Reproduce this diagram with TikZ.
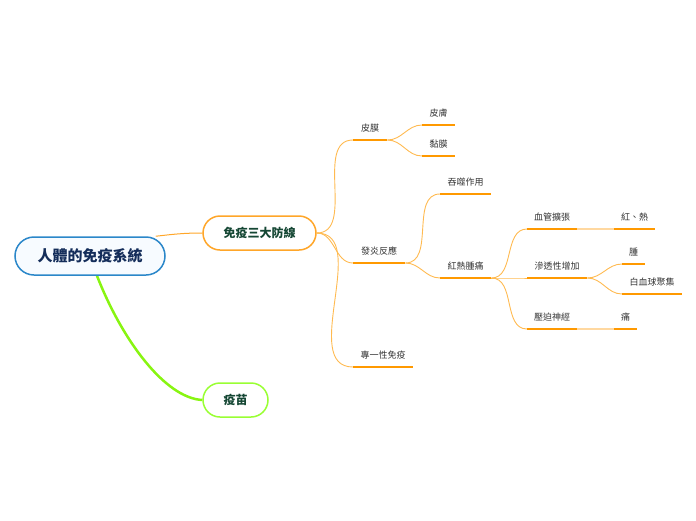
\documentclass[tikz,border=0pt]{standalone}
\usepackage{fontspec}
\setmainfont{Noto Sans CJK TC}
\usetikzlibrary{backgrounds}
\definecolor{rootblue}{HTML}{2B87C9}
\definecolor{rootfill}{HTML}{F7FBFF}
\definecolor{rootink}{HTML}{142D5A}
\definecolor{mainink}{HTML}{154734}
\definecolor{mainorange}{HTML}{FFA629}
\definecolor{vaccinegreen}{HTML}{99FF33}
\definecolor{limegreen}{HTML}{88F511}
\definecolor{lineorange}{HTML}{FF9900}
\definecolor{linkorange}{HTML}{FFBA50}
\definecolor{paleorange}{HTML}{FFD8A0}
\definecolor{labelink}{HTML}{333333}

\begin{document}
\begin{tikzpicture}[x=1pt, y=-1pt, central/.style={draw=rootblue, line width=1.5pt, rounded corners=19pt, fill=rootfill, minimum width=150pt, minimum height=38pt, text=rootink, font=\fontsize{15}{18}\selectfont\bfseries}, main/.style={line width=1.5pt, rounded corners=17pt, fill=white, minimum height=34pt, text=mainink, font=\fontsize{12}{14}\selectfont\bfseries}, topic/.style={anchor=south west, inner xsep=0pt, inner ysep=8.5pt, text height=7pt, text depth=0pt, text=labelink, font=\fontsize{9}{11}\selectfont}, uline/.style={lineorange, line width=2.4pt}, link/.style={linkorange, line width=0.9pt}, flatlink/.style={paleorange, line width=2pt}]
\useasboundingbox (0,0) rectangle (696,520);
\node[central] (root) at (90,256) {人體的免疫系統};
\node[main, draw=mainorange, minimum width=113pt] (defense) at (259.5,233) {免疫三大防線};
\node[main, draw=vaccinegreen, minimum width=65pt] (vaccine) at (235.5,400) {疫苗};
% first level
\node[topic, minimum width=34pt] (barrier) at (353,140) {皮膜};
\node[topic, minimum width=52pt] (inflam) at (353,263) {發炎反應};
\node[topic, minimum width=60pt] (specific) at (353,367) {專一性免疫};
% second level
\node[topic, minimum width=33pt] (skin) at (422,125) {皮膚};
\node[topic, minimum width=33pt] (mucosa) at (422,156) {黏膜};
\node[topic, minimum width=51pt] (phago) at (440,194) {吞噬作用};
\node[topic, minimum width=51pt] (redheat) at (440,278) {紅熱腫痛};
% third level
\node[topic, minimum width=50pt] (vasodil) at (527,229) {血管擴張};
\node[topic, minimum width=60pt] (permeab) at (527,278) {滲透性增加};
\node[topic, minimum width=50pt] (nerve) at (527,329) {壓迫神經};
\node[topic, minimum width=41pt] (redhot) at (614,229) {紅、熱};
\node[topic, minimum width=23pt] (swell) at (622,264) {腫};
\node[topic, minimum width=60pt] (wbc) at (622,294) {白血球聚集};
\node[topic, minimum width=23pt] (pain) at (614,329) {痛};
\begin{scope}[on background layer]
\draw[mainorange, line width=1pt] ([xshift=-10pt]root.north east) .. controls (175,234) and (185,233) .. (defense.west);
\draw[limegreen, line width=2.5pt] ([xshift=7pt]root.south) .. controls (122,340) and (165,398) .. (vaccine.west);
\end{scope}
\foreach \c in {barrier,inflam,specific}{\draw[link] (defense.east) to[out=0,in=180] (\c.south west);}
\foreach \p/\c in {barrier/skin,barrier/mucosa,inflam/phago,inflam/redheat,redheat/vasodil,redheat/permeab,redheat/nerve,permeab/swell,permeab/wbc}{\draw[link] (\p.south east) to[out=0,in=180] (\c.south west);}
\foreach \p/\c in {vasodil/redhot,nerve/pain}{\draw[flatlink] (\p.south east) -- (\c.south west);}
\foreach \n in {barrier,inflam,specific,skin,mucosa,phago,redheat,vasodil,permeab,nerve,redhot,swell,wbc,pain}{\draw[uline] (\n.south west)--(\n.south east);}
\end{tikzpicture}
\end{document}
